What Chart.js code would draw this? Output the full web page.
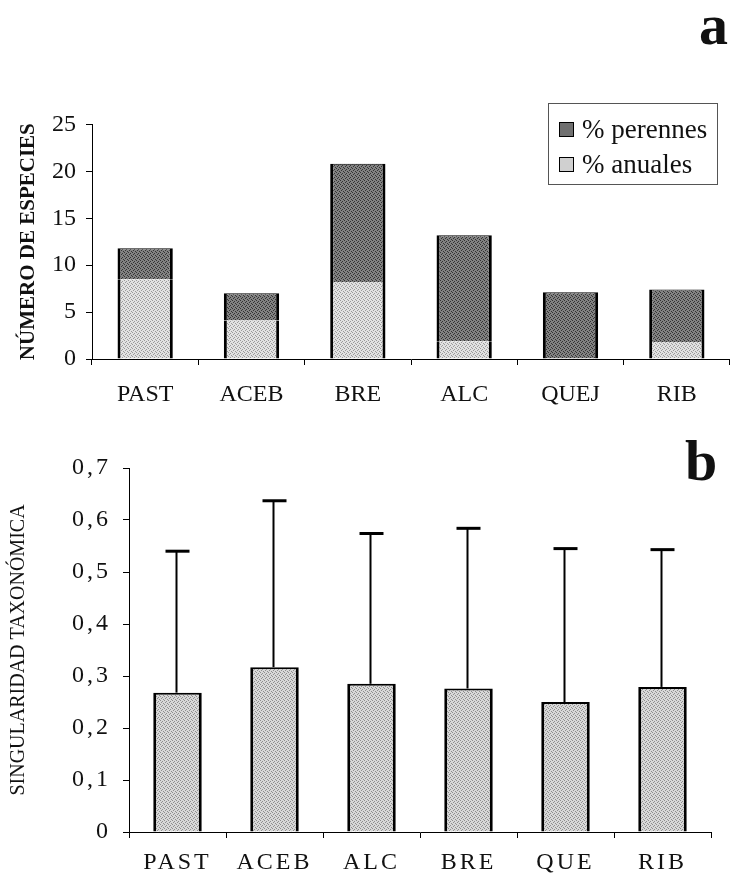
<!DOCTYPE html>
<html>
<head>
<meta charset="utf-8">
<script src="https://cdn.jsdelivr.net/npm/chart.js@4.4.1/dist/chart.umd.min.js"></script>
<style>
  body { margin: 0; background: #fff; width: 730px; height: 875px; position: relative; overflow: hidden; font-family: "Liberation Serif", serif; }
  canvas { position: absolute; left: 0; }
  #chartA { top: 100px; }
  #chartB { top: 440px; }
  .panel { position: absolute; font-weight: bold; font-size: 58px; line-height: 1; color: #111; }
  #legendA { position: absolute; left: 548px; top: 103px; width: 168px; height: 80px; border: 1px solid #555; }
  #legendA .item { position: absolute; left: 10px; height: 30px; display: flex; align-items: center; font-size: 27px; color: #111; white-space: nowrap; }
  #legendA .sw { width: 13px; height: 13px; border: 1px solid #000; margin-right: 8px; }
</style>
</head>
<body>
<div class="panel" style="left:699px; top:-4px;">a</div>
<div class="panel" style="left:685px; top:432px;">b</div>
<canvas id="chartA" width="730" height="320"></canvas>
<canvas id="chartB" width="730" height="435"></canvas>
<div id="legendA"></div>
<script>
// ---- data: panel a (species counts) ----
const categoriesA = ["PAST", "ACEB", "BRE", "ALC", "QUEJ", "RIB"];
const anuales = [8.5, 4.1, 8.2, 1.9, 0, 1.8];
const perennes = [3.3, 2.9, 12.6, 11.3, 7.1, 5.6];
const ticksA = [0, 5, 10, 15, 20, 25];

// ---- data: panel b (taxonomic singularity) ----
const categoriesB = ["PAST", "ACEB", "ALC", "BRE", "QUE", "RIB"];
const singularidad = [0.268, 0.317, 0.285, 0.276, 0.250, 0.279];
const errUpper = [0.540, 0.637, 0.574, 0.584, 0.545, 0.543];

// small deterministic stipple so the bars look like the printed screen
function stipple(base, dot) {
  const c = document.createElement("canvas");
  c.width = 4; c.height = 4;
  const g = c.getContext("2d");
  g.fillStyle = base;
  g.fillRect(0, 0, 4, 4);
  g.fillStyle = dot;
  [[0, 0], [2, 1], [1, 2], [3, 3]].forEach(([x, y]) => g.fillRect(x, y, 1, 1));
  return g.createPattern(c, "repeat");
}

const ctxA = document.getElementById("chartA").getContext("2d");
const darkFill = stipple("#828282", "#333333");
const lightFill = stipple("#e2e2e2", "#9a9a9a");
const barFillB = stipple("#d8d8d8", "#8e8e8e");

// legend box for panel a (perennes listed first)
const legendItems = [
  { label: "% perennes", color: "#707070" },
  { label: "% anuales", color: "#d0d0d0" }
];
document.getElementById("legendA").innerHTML = legendItems.map((it, i) =>
  `<div class="item" style="top:${10 + i * 35}px"><span class="sw" style="background:${it.color}"></span>${it.label}</div>`
).join("");

Chart.defaults.font.family = "'Liberation Serif', serif";
Chart.defaults.color = "#111";

// ------------------- panel a -------------------
new Chart(ctxA, {
  type: "bar",
  data: {
    labels: categoriesA,
    datasets: [
      {
        label: "% anuales",
        data: anuales,
        backgroundColor: lightFill,
        borderColor: "#000",
        borderWidth: { left: 3, right: 3, top: 0, bottom: 0 },
        borderSkipped: false,
        barPercentage: 0.52,
        categoryPercentage: 1
      },
      {
        label: "% perennes",
        data: perennes,
        backgroundColor: darkFill,
        borderColor: "#000",
        borderWidth: { left: 3, right: 3, top: 1, bottom: 0 },
        borderSkipped: false,
        barPercentage: 0.52,
        categoryPercentage: 1
      }
    ]
  },
  options: {
    responsive: false,
    animation: false,
    layout: { padding: { top: 24, right: 0, bottom: 0, left: 0 } },
    plugins: { legend: { display: false }, tooltip: { enabled: false } },
    scales: {
      x: {
        stacked: true,
        grid: { drawOnChartArea: false, offset: true, tickLength: 6, color: "#000" },
        border: { color: "#000", width: 1 },
        ticks: { font: { size: 24 }, padding: 15, color: "#111" },
        afterFit: (s) => { s.height = 61; }
      },
      y: {
        stacked: true,
        min: 0,
        max: 25,
        afterBuildTicks: (s) => { s.ticks = ticksA.map((v) => ({ value: v })); },
        grid: { drawOnChartArea: false, tickLength: 6, color: "#000" },
        border: { color: "#000", width: 1 },
        ticks: { font: { size: 24 }, padding: 10, color: "#111" },
        title: {
          display: true,
          text: "NÚMERO DE ESPECIES",
          font: { size: 21, weight: "bold" },
          padding: { top: 16, bottom: 0 },
          color: "#111"
        },
        afterFit: (s) => { s.width = 92; }
      }
    }
  }
});

// ------------------- panel b -------------------
// error bars: stem from bar top to upper value, with a cap
const errorBars = {
  id: "errorBars",
  afterDatasetsDraw(chart) {
    const { ctx } = chart;
    const y = chart.scales.y;
    const meta = chart.getDatasetMeta(0);
    ctx.save();
    ctx.strokeStyle = "#000";
    meta.data.forEach((bar, i) => {
      const top = y.getPixelForValue(errUpper[i]);
      ctx.lineWidth = 2;
      ctx.beginPath();
      ctx.moveTo(bar.x - 1, bar.y);
      ctx.lineTo(bar.x - 1, top);
      ctx.stroke();
      ctx.lineWidth = 3;
      ctx.beginPath();
      ctx.moveTo(bar.x - 12, top);
      ctx.lineTo(bar.x + 12, top);
      ctx.stroke();
    });
    ctx.restore();
  }
};

// the printed labels of panel b are a little spaced out
const spacedLabels = {
  id: "spacedLabels",
  afterLayout(chart) {
    Object.values(chart.scales).forEach((scale) => {
      if (scale._spaced) return;
      const orig = scale.drawLabels.bind(scale);
      scale.drawLabels = function (area) {
        this.ctx.save();
        this.ctx.letterSpacing = "3px";
        orig(area);
        this.ctx.restore();
      };
      scale._spaced = true;
    });
  }
};

new Chart(document.getElementById("chartB"), {
  type: "bar",
  data: {
    labels: categoriesB,
    datasets: [{
      label: "Singularidad taxonómica",
      data: singularidad,
      backgroundColor: barFillB,
      borderColor: "#000",
      borderWidth: { left: 3, right: 3, top: 2, bottom: 0 },
      borderSkipped: false,
      barPercentage: 0.5,
      categoryPercentage: 1
    }]
  },
  options: {
    responsive: false,
    animation: false,
    layout: { padding: { top: 28, right: 19, bottom: 0, left: 0 } },
    plugins: { legend: { display: false }, tooltip: { enabled: false } },
    scales: {
      x: {
        grid: { drawOnChartArea: false, offset: true, tickLength: 6, color: "#000" },
        border: { color: "#000", width: 1 },
        ticks: { font: { size: 24 }, padding: 10, color: "#111" },
        afterFit: (s) => { s.height = 43; }
      },
      y: {
        min: 0,
        max: 0.7,
        grid: { drawOnChartArea: false, tickLength: 6, color: "#000" },
        border: { color: "#000", width: 1 },
        ticks: {
          stepSize: 0.1,
          font: { size: 24 },
          padding: 12,
          color: "#111",
          callback: (v) => (v === 0 ? "0" : v.toFixed(1).replace(".", ","))
        },
        title: {
          display: true,
          text: "SINGULARIDAD TAXONÓMICA",
          font: { size: 20 },
          padding: { top: 7, bottom: 0 },
          color: "#111"
        },
        afterFit: (s) => { s.width = 129; }
      }
    }
  },
  plugins: [errorBars, spacedLabels]
});
</script>
</body>
</html>
